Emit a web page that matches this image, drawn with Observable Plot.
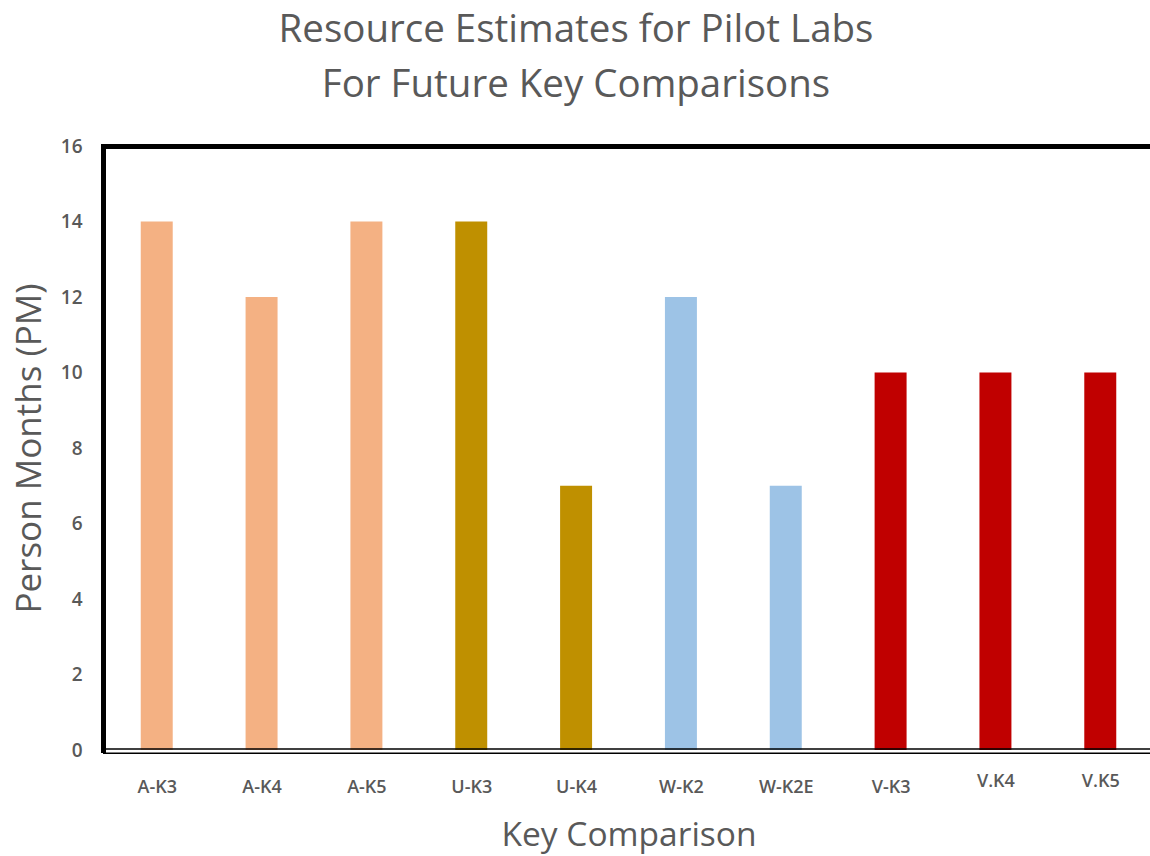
<!DOCTYPE html>
<html>
<head>
<meta charset="utf-8">
<script src="https://cdn.jsdelivr.net/npm/d3@7"></script>
<script src="https://cdn.jsdelivr.net/npm/@observablehq/plot@0.6"></script>
<style>
  html, body { margin: 0; padding: 0; background: #fff; overflow: hidden; }
  #title { width: 1150px; height: 120px; text-align: center; font-family: "Open Sans", sans-serif;
           font-size: 38.5px; line-height: 55px; color: #595959; padding-left: 2px; box-sizing: border-box; }
</style>
</head>
<body>
<div id="title">Resource Estimates for Pilot Labs<br>For Future Key Comparisons</div>
<div id="chart"></div>
<script>
const categories = ["A-K3", "A-K4", "A-K5", "U-K3", "U-K4", "W-K2", "W-K2E", "V-K3", "V.K4", "V.K5"];
const values = [14, 12, 14, 14, 7, 12, 7, 10, 10, 10];
const groups = ["A", "A", "A", "U", "U", "W", "W", "V", "V", "V"];
const groupNames = ["A", "U", "W", "V"];
const groupColors = ["#F4B183", "#BF9000", "#9DC3E6", "#C00000"];
const yTicks = [0, 2, 4, 6, 8, 10, 12, 14, 16];
const raisedLabels = ["V.K4", "V.K5"];

const data = categories.map((c, i) => ({category: c, value: values[i], group: groups[i]}));
const font = "Open Sans, sans-serif";

const chart = Plot.plot({
  width: 1150,
  height: 736,
  marginTop: 26,
  marginBottom: 106,
  marginLeft: 103,
  marginRight: -4,
  style: {fontFamily: font, background: "#fff", overflow: "visible"},
  x: {domain: categories, paddingInner: 0.695, paddingOuter: 0.36, align: 0.5, round: false, label: null},
  y: {domain: [0, 16], label: null},
  color: {domain: groupNames, range: groupColors},
  marks: [
    Plot.barY(data, {x: "category", y: "value", fill: "group"}),
    Plot.axisY({ticks: yTicks, tickSize: 0, tickPadding: 21, fontSize: 19, fontWeight: 600, fill: "#595959", label: null}),
    Plot.axisX({ticks: categories.filter(c => !raisedLabels.includes(c)), tickSize: 0, tickPadding: 30, fontSize: 18, fontWeight: 600, fill: "#595959", label: null}),
    Plot.axisX({ticks: raisedLabels, tickSize: 0, tickPadding: 23.5, fontSize: 18, fontWeight: 600, fill: "#595959", label: null}),
    Plot.ruleY([0], {stroke: "#000", strokeWidth: 1.6, dy: -1.5}),
    Plot.ruleY([0], {stroke: "#000", strokeWidth: 1.6, dy: 2.8}),
    Plot.ruleY([16], {stroke: "#000", strokeWidth: 5}),
    Plot.frame({anchor: "left", stroke: "#000", strokeWidth: 5}),
    Plot.text(["Person Months (PM)"], {frameAnchor: "left", textAnchor: "middle", lineAnchor: "middle", dx: -74, rotate: -90, fontSize: 35, fill: "#595959", fontFamily: font}),
    Plot.text(["Key Comparison"], {frameAnchor: "bottom", lineAnchor: "middle", dy: 85, fontSize: 33.5, fill: "#595959", fontFamily: font})
  ]
});
document.getElementById("chart").appendChild(chart);
</script>
</body>
</html>
